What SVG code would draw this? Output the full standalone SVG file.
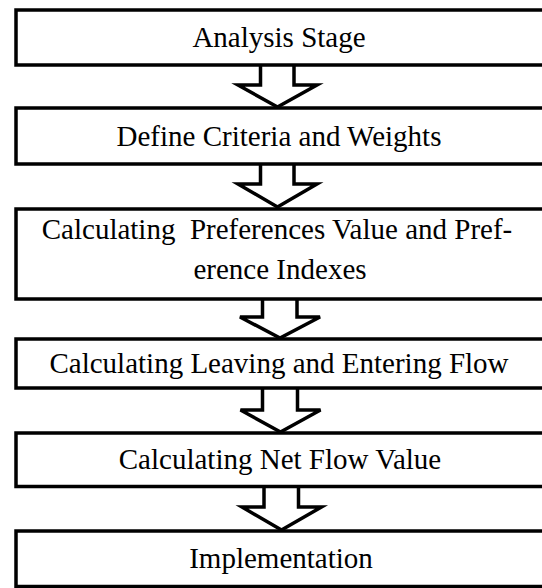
<svg xmlns="http://www.w3.org/2000/svg" width="542" height="588" viewBox="0 0 542 588">
<style>
.box{fill:#fff;stroke:#000;stroke-width:3.5}
.arr{fill:#fff;stroke:#000;stroke-width:3.5;stroke-linejoin:miter}
.t{font-size:29px;fill:#000;text-anchor:middle}
</style>
<rect width="542" height="588" fill="#fff"/>
<g id="connectors">
<polyline class="arr" points="260.5,65 260.5,85 238,85 277.5,107 317,85 294,85 294,65"/>
<polyline class="arr" points="260.5,164 260.5,184 238,184 277.5,207 317,184 294,184 294,164"/>
<polyline class="arr" points="262.5,299 262.5,317 240,317 280,338 320,317 297,317 297,299"/>
<polyline class="arr" points="262.5,388 262.5,410 240.5,410 280.5,432 320.5,410 297.5,410 297.5,388"/>
<polyline class="arr" points="264,486.5 264,507 242,507 281.5,530 321.5,507 298.5,507 298.5,486.5"/>
</g>
<g font-family="Liberation Serif, Times New Roman, DejaVu Serif, serif">
<g id="n1"><rect class="box" x="16" y="10" width="530" height="55"/><text class="t" x="279" y="47">Analysis Stage</text></g>
<g id="n2"><rect class="box" x="16" y="108" width="530" height="56"/><text class="t" x="279" y="146">Define Criteria and Weights</text></g>
<g id="n3"><rect class="box" x="16" y="209" width="530" height="90"/><text class="t" x="277" y="239" xml:space="preserve">Calculating  Preferences Value and Pref-</text><text class="t" x="280" y="279">erence Indexes</text></g>
<g id="n4"><rect class="box" x="16" y="339" width="530" height="49"/><text class="t" x="279" y="373">Calculating Leaving and Entering Flow</text></g>
<g id="n5"><rect class="box" x="16" y="433" width="530" height="53.5"/><text class="t" x="280" y="469">Calculating Net Flow Value</text></g>
<g id="n6"><rect class="box" x="16" y="531" width="530" height="55.5"/><text class="t" x="281" y="568">Implementation</text></g>
</g>
</svg>
